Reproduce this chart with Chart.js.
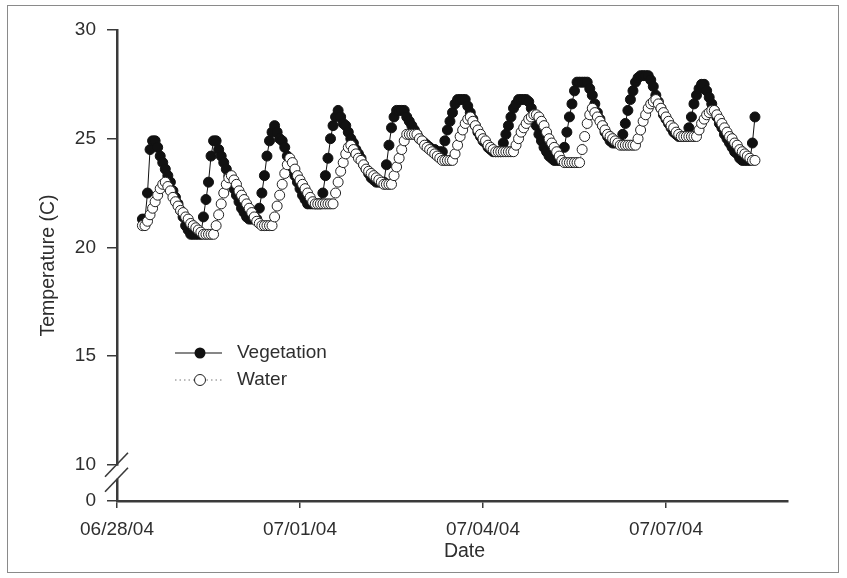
<!DOCTYPE html>
<html>
<head>
<meta charset="utf-8">
<script src="https://cdn.jsdelivr.net/npm/chart.js@4.4.1/dist/chart.umd.min.js"></script>
<style>
  html, body { margin: 0; padding: 0; background: #fff; }
  #wrap { width: 847px; height: 578px; }
</style>
</head>
<body>
<div id="wrap"><canvas id="grafico" width="847" height="578"></canvas></div>
<script>
// hourly readings, first one at 06/28/04 10:00
const startHour = 10;

const vegetation = [
  21.3, 21.3, 22.5, 24.5, 24.9, 24.9,
  24.6, 24.2, 23.9, 23.6, 23.3, 23.0, 22.6, 22.3, 22.0, 21.7, 21.4, 21.0, 20.8, 20.6,
  20.6, 20.6, 20.6, 20.6,
  21.4, 22.2, 23.0, 24.2, 24.9, 24.9,
  24.5, 24.2, 23.9, 23.6, 23.3, 23.0, 22.7, 22.4, 22.1, 21.8, 21.6, 21.4,
  21.3, 21.3, 21.3, 21.3,
  21.8, 22.5, 23.3, 24.2, 24.9, 25.3, 25.6,
  25.3, 25.0, 24.9, 24.6, 24.2, 23.9, 23.6, 23.3, 23.0, 22.7, 22.4, 22.2, 22.0,
  22.0, 22.0, 22.0, 22.0, 22.0,
  22.5, 23.3, 24.1, 25.0, 25.6, 26.0, 26.3,
  26.0, 25.7, 25.6, 25.3, 25.0, 24.8, 24.5, 24.3, 24.1, 23.8, 23.6, 23.4, 23.2, 23.1, 23.0,
  23.0, 23.0, 23.0,
  23.8, 24.7, 25.5, 26.0, 26.3, 26.3,
  26.3, 26.3,
  26.0, 25.8, 25.6, 25.4, 25.2, 25.0, 24.9, 24.8, 24.7, 24.6, 24.5, 24.5, 24.4,
  24.4, 24.4,
  24.9, 25.4, 25.8, 26.2, 26.6, 26.8, 26.8,
  26.8, 26.8,
  26.5, 26.2, 25.9, 25.6, 25.3, 25.1, 24.9, 24.8, 24.6, 24.5, 24.4, 24.4,
  24.4, 24.4,
  24.8, 25.2, 25.6, 26.0, 26.4, 26.6, 26.8, 26.8,
  26.8, 26.8, 26.7,
  26.4, 26.0, 25.6, 25.2, 24.9, 24.6, 24.4, 24.2, 24.1, 24.0,
  24.0, 24.0, 24.0,
  24.6, 25.3, 26.0, 26.6, 27.2, 27.6,
  27.6, 27.6, 27.6, 27.6,
  27.3, 27.0, 26.6, 26.2, 25.9, 25.6, 25.3, 25.1, 24.9, 24.8, 24.8,
  24.8, 24.8,
  25.2, 25.7, 26.3, 26.8, 27.2, 27.6, 27.8, 27.9,
  27.9, 27.9, 27.9,
  27.7, 27.4, 27.0, 26.7, 26.4, 26.1, 25.9, 25.7, 25.5, 25.3, 25.2, 25.1, 25.1,
  25.1, 25.1,
  25.5, 26.0, 26.6, 27.0, 27.3, 27.5,
  27.5,
  27.2, 26.9, 26.6, 26.3, 26.0, 25.7, 25.5, 25.2, 25.0, 24.8, 24.6, 24.4, 24.3, 24.1, 24.0, 24.0,
  24.0, 24.0,
  24.8, 26.0
];

const water = [
  21.0, 21.0,
  21.2, 21.5, 21.8, 22.1, 22.4, 22.7, 22.9, 23.0,
  22.8, 22.6, 22.3, 22.1, 21.9, 21.7, 21.6, 21.4, 21.3, 21.1, 21.0, 20.9, 20.8, 20.7, 20.6,
  20.6, 20.6, 20.6, 20.6,
  21.0, 21.5, 22.0, 22.5, 22.9, 23.2, 23.3,
  23.1, 22.9, 22.6, 22.4, 22.2, 22.0, 21.8, 21.6, 21.4, 21.2, 21.1, 21.0,
  21.0, 21.0, 21.0, 21.0,
  21.4, 21.9, 22.4, 22.9, 23.4, 23.8, 24.1,
  23.9, 23.6, 23.3, 23.1, 22.9, 22.7, 22.5, 22.3, 22.1, 22.0,
  22.0, 22.0, 22.0, 22.0, 22.0, 22.0, 22.0,
  22.5, 23.0, 23.5, 23.9, 24.3, 24.6, 24.7,
  24.5, 24.3, 24.1, 24.0, 23.8, 23.6, 23.5, 23.4, 23.3, 23.2, 23.1, 23.0, 22.9,
  22.9, 22.9, 22.9,
  23.3, 23.7, 24.1, 24.5, 24.9, 25.2,
  25.2, 25.2, 25.2, 25.2,
  25.0, 24.9, 24.7, 24.6, 24.5, 24.4, 24.3, 24.2, 24.1, 24.0,
  24.0, 24.0, 24.0, 24.0,
  24.3, 24.7, 25.1, 25.4, 25.7, 25.9, 26.0,
  25.8, 25.6, 25.4, 25.2, 25.0, 24.9, 24.7, 24.6, 24.5, 24.4,
  24.4, 24.4, 24.4, 24.4, 24.4, 24.4, 24.4,
  24.7, 25.0, 25.3, 25.5, 25.7, 25.9, 26.0, 26.1, 26.1,
  26.0,
  25.8, 25.6, 25.3, 25.0, 24.8, 24.6, 24.4, 24.2, 24.0, 23.9,
  23.9, 23.9, 23.9, 23.9, 23.9, 23.9,
  24.5, 25.1, 25.7, 26.1, 26.4,
  26.2, 26.0, 25.8, 25.6, 25.4, 25.2, 25.1, 25.0, 24.9, 24.8, 24.7,
  24.7, 24.7, 24.7, 24.7, 24.7, 24.7,
  25.0, 25.4, 25.8, 26.1, 26.4, 26.6, 26.7, 26.8,
  26.6, 26.4, 26.2, 26.0, 25.8, 25.6, 25.5, 25.3, 25.2, 25.1,
  25.1, 25.1, 25.1, 25.1, 25.1, 25.1,
  25.4, 25.7, 25.9, 26.1, 26.2, 26.3, 26.3,
  26.1, 25.9, 25.7, 25.5, 25.3, 25.1, 25.0, 24.8, 24.7, 24.5, 24.4, 24.3, 24.2, 24.1, 24.0, 24.0
];

// x in days since 06/28/04 00:00
const xTickValues = [0, 3, 6, 9];
const xTickLabels = ['06/28/04', '07/01/04', '07/04/04', '07/07/04'];
// the lowest tick sits below the axis break and is labelled 0
const breakValue = 8.33;
const yTickValues = [breakValue, 10, 15, 20, 25, 30];
const yTickLabels = ['0', '10', '15', '20', '25', '30'];

const seriesNames = ['Vegetation', 'Water'];
const xTitle = 'Date';

function toPoints(arr) {
  return arr.map((v, i) => ({ x: (startHour + i) / 24, y: v }));
}

const textColor = '#2e2e2e';
const axisColor = '#3a3a3a';
const fontFamily = "'Liberation Sans', Arial, sans-serif";
Chart.defaults.font.family = fontFamily;
Chart.defaults.color = textColor;

// frame round the figure
const marco = {
  id: 'marco',
  beforeDraw(chart) {
    const ctx = chart.ctx;
    ctx.save();
    ctx.fillStyle = '#fff';
    ctx.fillRect(0, 0, chart.width, chart.height);
    ctx.strokeStyle = '#8a8a8a';
    ctx.lineWidth = 1;
    ctx.strokeRect(7.5, 5.5, 831, 567);
    ctx.restore();
  }
};

// the // marks on the y axis between 0 and 10, plus the x title (sits a bit right of centre)
const corte = {
  id: 'corte',
  afterDraw(chart) {
    const ctx = chart.ctx;
    const y = chart.scales.y;
    const a = chart.chartArea;
    const x0 = a.left;
    const y10 = y.getPixelForValue(10);
    const gap = 15;
    ctx.save();
    ctx.fillStyle = '#fff';
    ctx.fillRect(x0 - 3, y10 + 1, 6, gap - 2);
    ctx.strokeStyle = axisColor;
    ctx.lineWidth = 1.6;
    [0, gap].forEach(off => {
      ctx.beginPath();
      ctx.moveTo(x0 - 12, y10 + off + 12);
      ctx.lineTo(x0 + 11, y10 + off - 12);
      ctx.stroke();
    });

    ctx.font = '19.5px ' + fontFamily;
    ctx.fillStyle = textColor;
    ctx.textAlign = 'center';
    ctx.textBaseline = 'middle';
    ctx.fillText(xTitle, (a.left + a.right) / 2 + 12, a.bottom + 51);
    ctx.restore();
  }
};

// legend inside the plot, lower left
const leyenda = {
  id: 'leyenda',
  afterDraw(chart) {
    const ctx = chart.ctx;
    const a = chart.chartArea;
    const lx = a.left + 58, cx = a.left + 83, rx = a.left + 105, tx = a.left + 120;
    const rows = [a.top + 323, a.top + 350];
    ctx.save();
    ctx.font = '19px ' + fontFamily;
    ctx.textBaseline = 'middle';

    // Vegetation
    ctx.strokeStyle = '#111';
    ctx.lineWidth = 1.2;
    ctx.beginPath(); ctx.moveTo(lx, rows[0]); ctx.lineTo(rx, rows[0]); ctx.stroke();
    ctx.beginPath(); ctx.arc(cx, rows[0], 5.5, 0, Math.PI * 2);
    ctx.fillStyle = '#111'; ctx.fill();
    ctx.fillStyle = textColor;
    ctx.fillText(seriesNames[0], tx, rows[0]);

    // Water
    ctx.strokeStyle = '#777';
    ctx.lineWidth = 1;
    ctx.setLineDash([1.5, 3]);
    ctx.beginPath(); ctx.moveTo(lx, rows[1]); ctx.lineTo(rx, rows[1]); ctx.stroke();
    ctx.setLineDash([]);
    ctx.beginPath(); ctx.arc(cx, rows[1], 5.5, 0, Math.PI * 2);
    ctx.fillStyle = '#fff'; ctx.fill();
    ctx.strokeStyle = '#222'; ctx.stroke();
    ctx.fillStyle = textColor;
    ctx.fillText(seriesNames[1], tx, rows[1]);
    ctx.restore();
  }
};

const ctx = document.getElementById('grafico').getContext('2d');
new Chart(ctx, {
  type: 'line',
  data: {
    datasets: [
      {
        label: seriesNames[0],
        data: toPoints(vegetation),
        order: 1,
        borderColor: '#111',
        borderWidth: 1,
        pointRadius: 5,
        pointBackgroundColor: '#111',
        pointBorderColor: '#111',
        pointBorderWidth: 1,
        tension: 0
      },
      {
        label: seriesNames[1],
        data: toPoints(water),
        order: 0,
        borderColor: '#777',
        borderWidth: 1,
        borderDash: [1.5, 2.5],
        pointRadius: 5,
        pointBackgroundColor: '#fff',
        pointBorderColor: '#222',
        pointBorderWidth: 1,
        tension: 0
      }
    ]
  },
  options: {
    responsive: false,
    animation: false,
    events: [],
    layout: { padding: { left: 0, top: 30, right: 59, bottom: 0 } },
    plugins: {
      legend: { display: false },
      tooltip: { enabled: false }
    },
    scales: {
      x: {
        type: 'linear',
        min: 0,
        max: 11,
        afterFit(scale) { scale.height = 77; },
        afterBuildTicks(scale) { scale.ticks = xTickValues.map(v => ({ value: v })); },
        border: { color: axisColor, width: 2.5 },
        grid: { drawOnChartArea: false, drawTicks: true, tickLength: 7, color: axisColor, lineWidth: 1.5 },
        ticks: {
          padding: 10,
          maxRotation: 0,
          font: { size: 19 },
          color: textColor,
          callback: (v) => xTickLabels[xTickValues.indexOf(v)]
        },
        title: { display: false }
      },
      y: {
        type: 'linear',
        min: breakValue,
        max: 30,
        afterFit(scale) { scale.width = 117; },
        afterBuildTicks(scale) { scale.ticks = yTickValues.map(v => ({ value: v })); },
        border: { color: axisColor, width: 2.5 },
        grid: { drawOnChartArea: false, drawTicks: true, tickLength: 10, color: axisColor, lineWidth: 1.5 },
        ticks: {
          padding: 11,
          font: { size: 19 },
          color: textColor,
          callback: (v) => yTickLabels[yTickValues.indexOf(v)]
        },
        title: {
          display: true,
          text: 'Temperature (C)',
          font: { size: 19.5 },
          color: textColor,
          padding: { top: 37, bottom: 0 }
        }
      }
    }
  },
  plugins: [marco, corte, leyenda]
});
</script>
</body>
</html>
